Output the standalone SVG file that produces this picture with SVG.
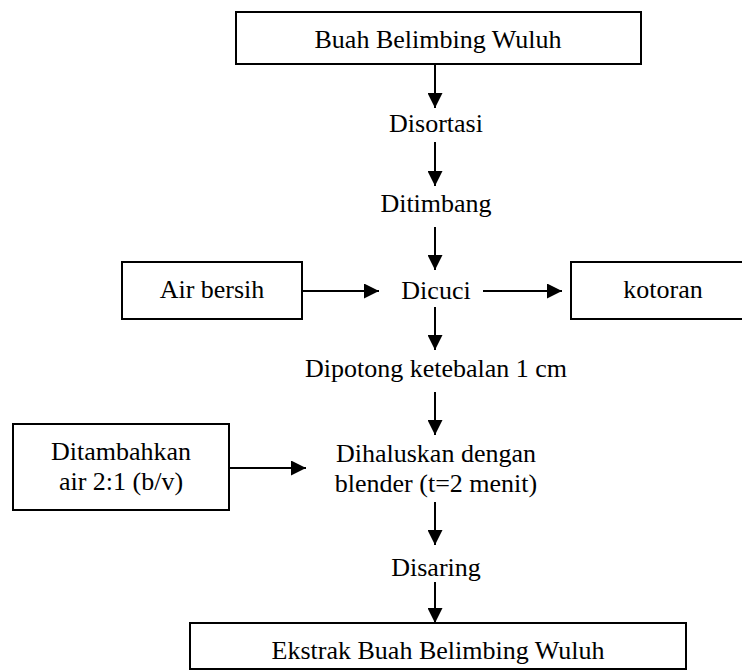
<svg xmlns="http://www.w3.org/2000/svg" width="742" height="670" viewBox="0 0 742 670">
<defs>
<marker id="ah" markerUnits="userSpaceOnUse" markerWidth="15" markerHeight="15" refX="15" refY="7.5" orient="auto">
<path d="M0,0 L15,7.5 L0,15 z" fill="#000"/>
</marker>
<style>
.box{fill:#fff;stroke:#000;stroke-width:2}
.t{font-family:"Liberation Serif","Times New Roman",serif;font-size:26px;fill:#000;text-anchor:middle}
.c{stroke:#000;stroke-width:2;fill:none;marker-end:url(#ah)}
</style>
</defs>
<rect width="742" height="670" fill="#fff"/>
<g id="connectors">
<line class="c" x1="435" y1="64" x2="435" y2="108"/>
<line class="c" x1="435" y1="142" x2="435" y2="186"/>
<line class="c" x1="435" y1="227" x2="435" y2="270"/>
<line class="c" x1="435" y1="307" x2="435" y2="350"/>
<line class="c" x1="435" y1="392" x2="435" y2="435"/>
<line class="c" x1="435" y1="502" x2="435" y2="545"/>
<line class="c" x1="435" y1="582" x2="435" y2="623"/>
<line class="c" x1="302" y1="291" x2="379" y2="291"/>
<line class="c" x1="483" y1="291" x2="562" y2="291"/>
<line class="c" x1="229" y1="468" x2="306" y2="468"/>
</g>
<g id="buah">
<rect class="box" x="236" y="12" width="405" height="52"/>
<text class="t" x="438" y="48">Buah Belimbing Wuluh</text>
</g>
<g id="disortasi"><text class="t" x="436" y="132">Disortasi</text></g>
<g id="ditimbang"><text class="t" x="436" y="212">Ditimbang</text></g>
<g id="air-bersih">
<rect class="box" x="122" y="262" width="180" height="57"/>
<text class="t" x="212" y="298">Air bersih</text>
</g>
<g id="dicuci"><text class="t" x="436" y="299">Dicuci</text></g>
<g id="kotoran">
<rect class="box" x="571" y="262" width="185" height="57"/>
<text class="t" x="663" y="298">kotoran</text>
</g>
<g id="dipotong"><text class="t" x="436" y="377">Dipotong ketebalan 1 cm</text></g>
<g id="ditambahkan">
<rect class="box" x="13" y="424" width="216" height="86"/>
<text class="t" x="121" y="460">Ditambahkan</text>
<text class="t" x="121" y="490">air 2:1 (b/v)</text>
</g>
<g id="dihaluskan">
<text class="t" x="436" y="462">Dihaluskan dengan</text>
<text class="t" x="436" y="492">blender (t=2 menit)</text>
</g>
<g id="disaring"><text class="t" x="436" y="576">Disaring</text></g>
<g id="ekstrak">
<rect class="box" x="190" y="623" width="496" height="46"/>
<text class="t" x="438" y="659">Ekstrak Buah Belimbing Wuluh</text>
</g>
</svg>
